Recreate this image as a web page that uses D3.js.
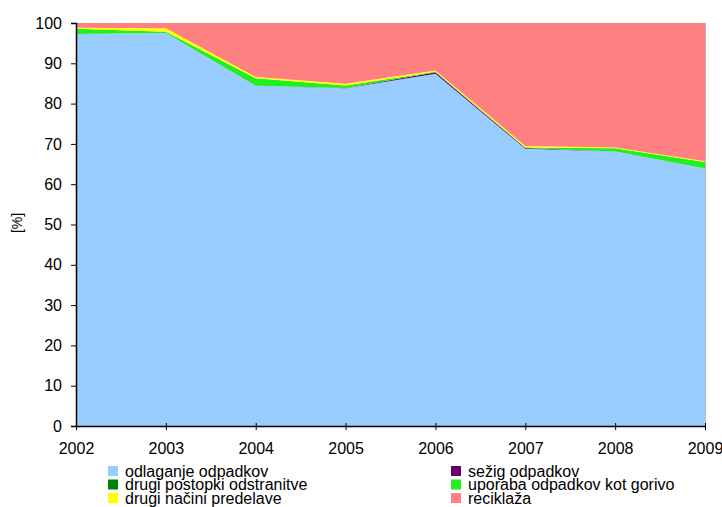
<!DOCTYPE html>
<html><head><meta charset="utf-8">
<script src="https://cdn.jsdelivr.net/npm/d3@7"></script>
<style>
body{margin:0;background:#fff;}
svg text{font-family:"Liberation Sans",Arial,sans-serif;fill:#000;}
</style></head>
<body><svg id="c" width="722" height="507"></svg>
<script>
const years = ["2002","2003","2004","2005","2006","2007","2008","2009"];
const seriesNames = ["odlaganje odpadkov","sežig odpadkov","drugi postopki odstranitve","uporaba odpadkov kot gorivo","drugi načini predelave","reciklaža"];
const seriesColors = ["#99CCFF","#660066","#008000","#22EE22","#FFFF00","#FF8080"];
const odlaganje = [97.3, 97.5, 84.4, 83.8, 87.4, 68.8, 68.1, 63.9];
const sezig = [0, 0, 0, 0.1, 0.4, 0.2, 0, 0];
const drugiOdstranitve = [0, 0, 0, 0, 0, 0, 0, 0];
const gorivo = [1.3, 0.3, 1.9, 0.6, 0.1, 0.1, 0.8, 1.6];
const drugiPredelave = [0.2, 0.9, 0.3, 0.4, 0.3, 0.4, 0.2, 0.2];
const reciklaza = [1.2, 1.3, 13.4, 15.1, 11.8, 30.5, 30.9, 34.3];
const yTicks = [0,10,20,30,40,50,60,70,80,90,100];
const yLabel = "[%]";

const seriesValues = [odlaganje, sezig, drugiOdstranitve, gorivo, drugiPredelave, reciklaza];
const table = years.map((y,i)=>{const o={year:y}; seriesNames.forEach((n,j)=>o[n]=seriesValues[j][i]); return o;});

const svg = d3.select("#c");
const L=76, R=705, T=23, B=426;
const x = d3.scalePoint().domain(years).range([L,R]);
const y = d3.scaleLinear().domain([0,100]).range([B,T]);

const stacked = d3.stack().keys(seriesNames)(table);
const area = d3.area().x(d=>x(d.data.year)).y0(d=>y(d[0])).y1(d=>y(d[1]));
svg.append("g").selectAll("path").data(stacked).join("path")
  .attr("d",area).attr("fill",(d,i)=>seriesColors[i]);

// right edge faint border
svg.append("line").attr("x1",R+0.5).attr("x2",R+0.5).attr("y1",T).attr("y2",B).attr("stroke","#bbb").attr("stroke-width",1);

// y axis
const ya = svg.append("g").attr("transform",`translate(${L},0)`)
  .call(d3.axisLeft(y).tickValues(yTicks).tickSize(5).tickPadding(9));
ya.select(".domain").attr("stroke","#000").attr("stroke-width",1.5);
ya.selectAll(".tick line").attr("stroke","#000");
ya.selectAll("text").style("font-size","16px").attr("font-family","Liberation Sans, Arial, sans-serif");

// x axis
const xa = svg.append("g").attr("transform",`translate(0,${B})`)
  .call(d3.axisBottom(x).tickSize(4).tickPadding(13).tickSizeOuter(0));
xa.select(".domain").attr("stroke","#000").attr("stroke-width",1.5);
xa.selectAll(".tick line").attr("stroke","#000").attr("y1",-3);
xa.selectAll("text").style("font-size","16px").attr("font-family","Liberation Sans, Arial, sans-serif");

// y label
svg.append("text").attr("transform","translate(22,223) rotate(-90)")
  .attr("text-anchor","middle").style("font-size","14px").text(yLabel);

// legend (2 columns, row-major)
const legX = [108, 451], legY0 = 471, legDy = 13.5;
const lg = svg.append("g").selectAll("g").data(seriesNames).join("g")
  .attr("transform",(d,i)=>`translate(${legX[i%2]},${legY0 + Math.floor(i/2)*legDy})`);
lg.append("rect").attr("x",0).attr("y",-5).attr("width",10).attr("height",10)
  .attr("fill",(d,i)=>seriesColors[i]);
lg.append("text").attr("x",17).attr("y",5.5).style("font-size","16px").text(d=>d);
</script></body></html>
